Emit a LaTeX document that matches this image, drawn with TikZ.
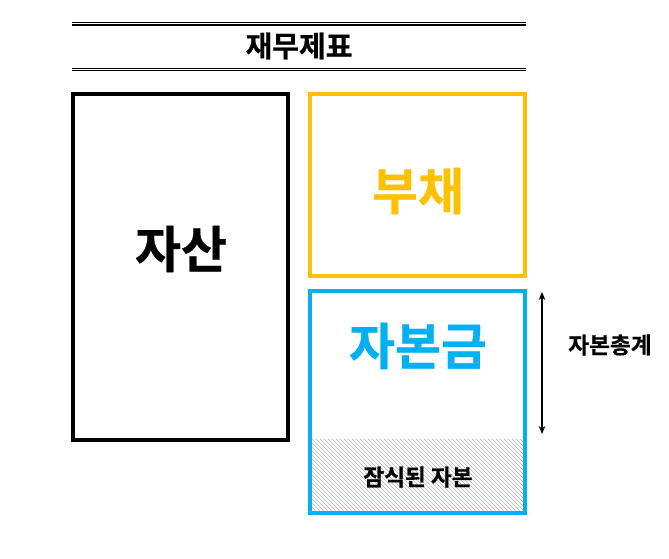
\documentclass[tikz,border=0pt]{standalone}
\usepackage{fontspec}
\newfontfamily\kr{Noto Sans CJK KR}[BoldFont={Noto Sans CJK KR Bold},BoldFeatures={FakeBold=0.6}]
\usetikzlibrary{patterns,arrows.meta}
\definecolor{ylw}{HTML}{FFC000}
\definecolor{cyn}{HTML}{00B0F0}
\tikzset{
  boxline/.style={line width=2.4pt},
  rule/.style={line width=1.1pt},
  bigtxt/.style={font=\kr\bfseries\fontsize{37.5}{42}\selectfont, inner sep=0pt},
  smalltxt/.style={font=\kr\bfseries\fontsize{17}{20}\selectfont, inner sep=0pt},
  titletxt/.style={font=\kr\bfseries\fontsize{21.8}{26}\selectfont, inner sep=0pt}
}
\begin{document}
\begin{tikzpicture}[x=0.75pt,y=-0.75pt]
\useasboundingbox (0,0) rectangle (669,559);
% title rules
\coordinate (r1a) at (72,22.7); \coordinate (r1b) at (526,22.7);
\coordinate (r2a) at (72,24.9); \coordinate (r2b) at (526,24.9);
\coordinate (r3a) at (72,68.5); \coordinate (r3b) at (526,68.5);
\coordinate (r4a) at (72,70.7); \coordinate (r4b) at (526,70.7);
\draw[rule] (r1a) -- (r1b);
\draw[rule] (r2a) -- (r2b);
\draw[rule] (r3a) -- (r3b);
\draw[rule] (r4a) -- (r4b);
\node[titletxt] (title) at (299,46) {재무제표};
% hatched area
\fill[pattern=north west lines, pattern color=gray!60] (310,440) rectangle (525,513);
% boxes
\draw[boxline, black] (73,94) rectangle (288,440);
\draw[boxline, ylw] (310,94) rectangle (525,276);
\draw[boxline, cyn] (310,291) rectangle (525,513);
\node[bigtxt, black] (asset) at (181,249) {자산};
\node[bigtxt, ylw] (liab) at (418,191) {부채};
\node[bigtxt, cyn] (cap) at (418,346) {자본금};
\node[smalltxt] (erode) at (418,477) {잠식된 자본};
% arrow
\coordinate (at) at (542,292);
\coordinate (ab) at (542,434);
\draw[line width=0.9pt, {Stealth[length=6pt,width=5pt]}-{Stealth[length=6pt,width=5pt]}] (at) -- (ab);
\node[smalltxt] (total) at (610,345) {자본총계};
\end{tikzpicture}
\end{document}
